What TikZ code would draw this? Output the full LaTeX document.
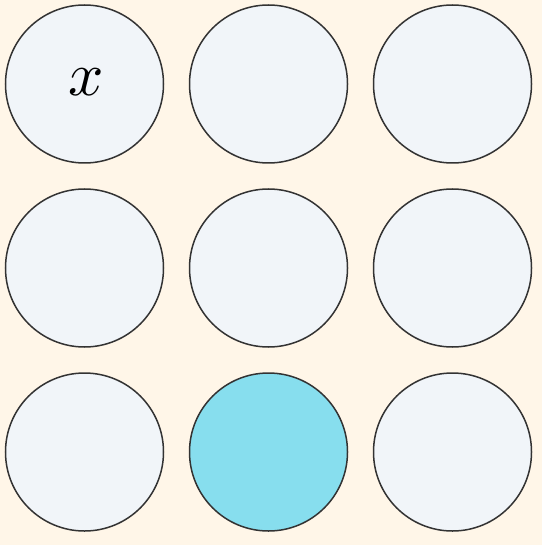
\documentclass[tikz,border=0pt]{standalone}
\usetikzlibrary{positioning}
\definecolor{colPaper}{RGB}{255,246,232}
\definecolor{colCell}{RGB}{241,245,249}
\definecolor{colHit}{RGB}{135,222,238}
\definecolor{colBorder}{RGB}{51,51,51}
\tikzset{
    cell/.style={circle, draw=colBorder, line width=1.5pt, fill=colCell,
        minimum size=158pt, inner sep=0pt},
    hit/.style={cell, fill=colHit},
    mark label/.style={scale=6.2, transform shape, inner sep=0pt}
}
\begin{document}
\begin{tikzpicture}[x=1pt, y=-1pt, node distance=24.5pt and 24.5pt]

    \fill[colPaper] (0,0) rectangle (542,545);
    \useasboundingbox (0,0) rectangle (542,545);

    % top row
    \node[cell] (c11) at (84.5,84) {};
    \node[mark label] (xlabel) at (86,82) {$x$};
    \node[cell, right=of c11] (c12) {};
    \node[cell, right=of c12] (c13) {};

    % middle row
    \node[cell, below=of c11] (c21) {};
    \node[cell, right=of c21] (c22) {};
    \node[cell, right=of c22] (c23) {};

    % bottom row
    \node[cell, below=of c21] (c31) {};
    \node[hit, right=of c31] (c32) {};
    \node[cell, right=of c32] (c33) {};

\end{tikzpicture}
\end{document}
